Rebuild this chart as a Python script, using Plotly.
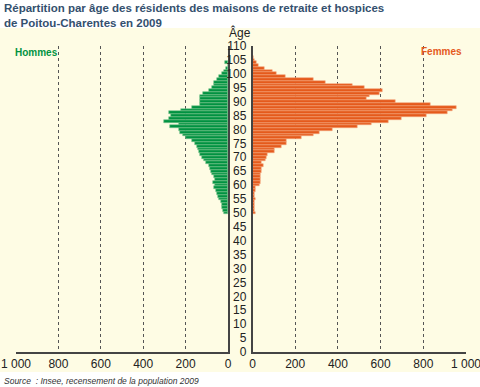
import plotly.graph_objects as go

ages_hommes = list(range(50, 105))
hommes = [19, 25, 27, 30, 34, 41, 45, 50, 56, 66,
          61, 69, 61, 66, 77, 81, 85, 92, 103, 112,
          123, 130, 135, 140, 146, 155, 170, 197, 210, 225,
          230, 272, 233, 300, 278, 268, 278, 220, 168, 130,
          130, 130, 130, 116, 90, 77, 64, 64, 52, 42,
          28, 18, 10, 0, 12]

ages_femmes = list(range(50, 107))
femmes = [14, 8, 8, 10, 10, 14, 10, 10, 13, 13,
          31, 36, 36, 36, 36, 41, 41, 52, 41, 63,
          67, 72, 103, 103, 134, 158, 158, 228, 285, 316,
          377, 490, 556, 636, 696, 815, 915, 935, 955, 833,
          671, 536, 546, 594, 611, 525, 469, 341, 286, 153,
          114, 94, 56, 28, 20, 9, 4]

x_ticks = [0, 200, 400, 600, 800, 1000]
x_ticktext = ["0", "200", "400", "600", "800", "1 000"]
age_ticks = list(range(0, 111, 5))

W, H = 480, 387
L, R, T, B = 16, 14, 46, 35
PW, PH = W - L - R, H - T - B

def px(x):
    return (x - L) / PW

def py(y):
    return (H - B - y) / PH

GREEN = "#009241"
ORANGE = "#E55A1C"
CREAM = "#FEFCE4"
FONT = "Liberation Sans, Arial, sans-serif"

fig = go.Figure()
fig.add_trace(go.Bar(y=ages_hommes, x=hommes, orientation="h", xaxis="x", yaxis="y",
                     marker=dict(color=GREEN, line=dict(color="#7CC48F", width=0.6)),
                     width=1, showlegend=False, hoverinfo="skip"))
fig.add_trace(go.Bar(y=ages_femmes, x=femmes, orientation="h", xaxis="x2", yaxis="y2",
                     marker=dict(color=ORANGE, line=dict(color="#F4A57A", width=0.6)),
                     width=1, showlegend=False, hoverinfo="skip"))

grid = dict(showgrid=True, gridcolor="#555555", griddash="dot", gridwidth=1)
xcommon = dict(tickvals=x_ticks, ticktext=x_ticktext, showline=True, linecolor="#444444",
               linewidth=1.5, ticks="", zeroline=False, automargin=False,
               ticklabeloverflow="allow",
               tickfont=dict(family=FONT, size=12, color="#222222"), **grid)

fig.update_layout(
    width=W, height=H,
    margin=dict(l=L, r=R, t=T, b=B, autoexpand=False),
    paper_bgcolor="white", plot_bgcolor="rgba(0,0,0,0)",
    bargap=0,
    font=dict(family=FONT),
    xaxis=dict(domain=[0, px(228)], range=[1000, 0], anchor="y", **xcommon),
    xaxis2=dict(domain=[px(252.5), 1], range=[0, 1000], anchor="y2", **xcommon),
    yaxis=dict(domain=[0, 1], range=[0, 110], anchor="x", side="right",
               showticklabels=False, showgrid=False, zeroline=False, automargin=False,
               showline=True, linecolor="#444444", linewidth=1.5, ticks=""),
    yaxis2=dict(domain=[0, 1], range=[0, 110], anchor="x2", side="left",
                tickvals=age_ticks, showgrid=False, zeroline=False, automargin=False,
                showline=True, linecolor="#444444", linewidth=1.5, ticks="",
                ticklabelstandoff=2, ticklabeloverflow="allow",
                tickfont=dict(family=FONT, size=12, color="#222222")),
    shapes=[dict(type="rect", xref="paper", yref="paper", layer="below",
                 x0=px(-5), x1=px(485), y0=py(372), y1=py(28),
                 fillcolor=CREAM, line=dict(width=0))],
)

fig.add_annotation(xref="paper", yref="paper", x=px(2), y=py(0), xanchor="left", yanchor="top",
                   text="<b>Répartition par âge des résidents des maisons de retraite et hospices<br>de Poitou-Charentes en 2009</b>",
                   showarrow=False, align="left",
                   font=dict(family=FONT, size=11.5, color="#34506E"))
fig.add_annotation(xref="paper", yref="paper", x=px(240), y=py(33), xanchor="center", yanchor="middle",
                   text="Âge", showarrow=False, font=dict(family=FONT, size=12, color="#222222"))
fig.add_annotation(xref="paper", yref="paper", x=px(13), y=py(52), xanchor="left", yanchor="middle",
                   text="<b>Hommes</b>", showarrow=False, font=dict(family=FONT, size=10, color=GREEN))
fig.add_annotation(xref="paper", yref="paper", x=px(464), y=py(51), xanchor="right", yanchor="middle",
                   text="<b>Femmes</b>", showarrow=False, font=dict(family=FONT, size=10, color=ORANGE))
fig.add_annotation(xref="paper", yref="paper", x=px(2), y=py(381), xanchor="left", yanchor="middle",
                   text="<i>Source  : Insee, recensement de la population 2009</i>", showarrow=False,
                   font=dict(family=FONT, size=8.5, color="#333333"))

fig.write_html("out.html", config={"displayModeBar": False},
               post_script="document.body.style.margin='0';document.body.style.padding='0';")
